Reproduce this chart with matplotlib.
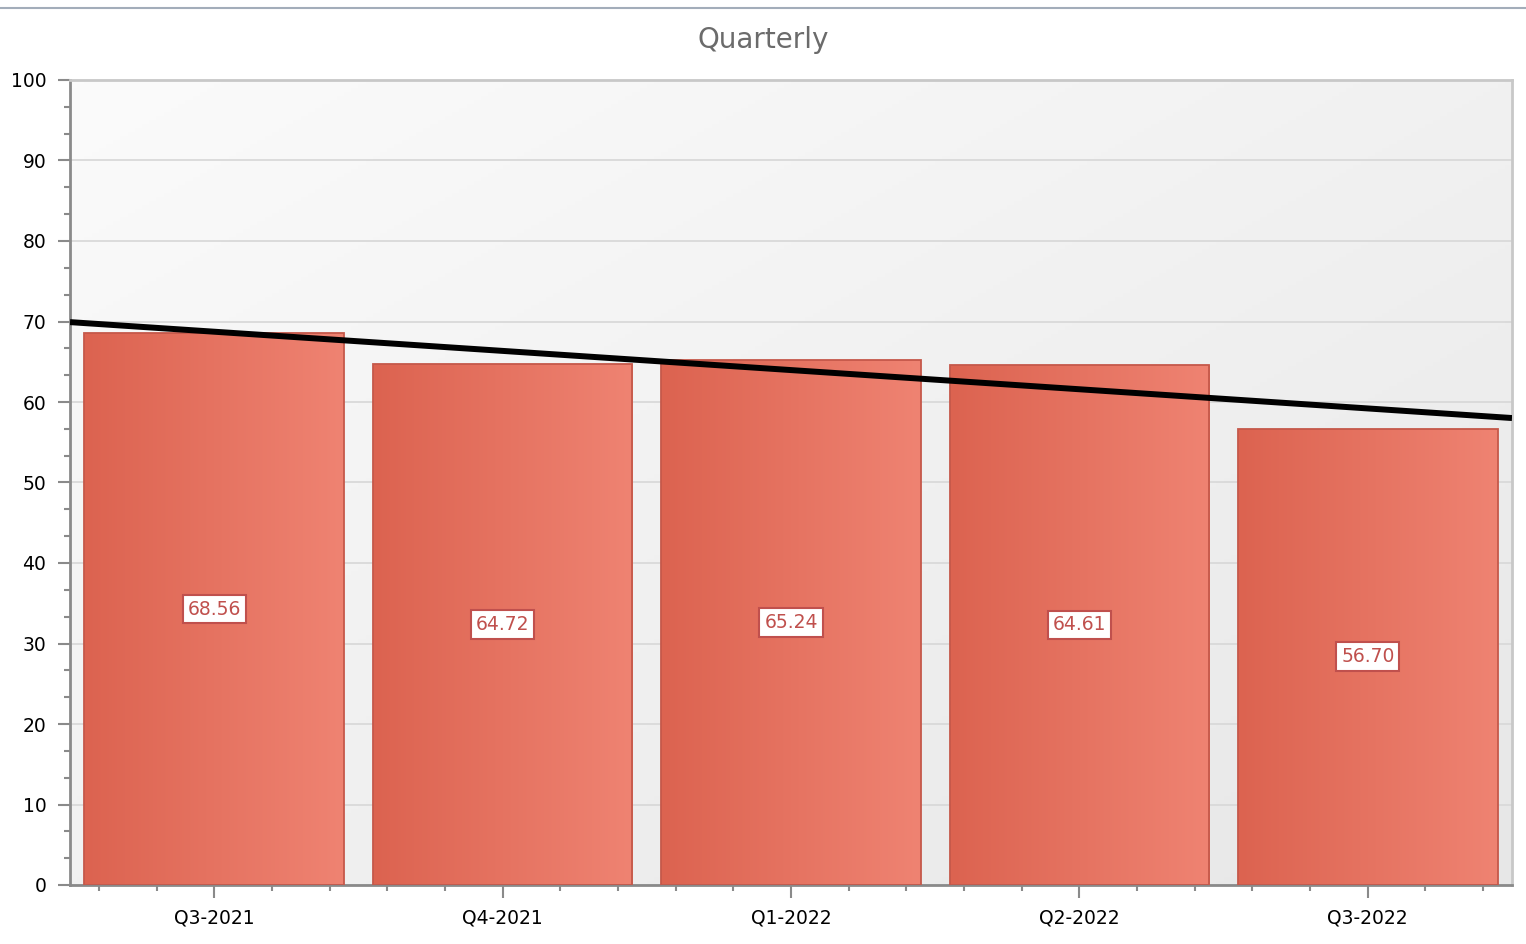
import matplotlib
matplotlib.use("Agg")
import matplotlib.pyplot as plt
import numpy as np
from matplotlib.colors import LinearSegmentedColormap
from matplotlib.ticker import MultipleLocator, AutoMinorLocator
from matplotlib.lines import Line2D

# data
quarters = ['Q3-2021', 'Q4-2021', 'Q1-2022', 'Q2-2022', 'Q3-2022']
values = [68.56, 64.72, 65.24, 64.61, 56.70]

plt.rcParams['font.family'] = ['DejaVu Sans']

fig = plt.figure(figsize=(15.26, 9.44), dpi=100)
ax = fig.add_axes([70 / 1526, 59 / 944, 1442 / 1526, 805 / 944])

x = np.arange(len(quarters))

# plot-area background gradient (light top-left -> darker bottom-right)
bg_cmap = LinearSegmentedColormap.from_list('bg', ['#fbfbfb', '#e7e7e7'])
gx, gy = np.meshgrid(np.linspace(0, 1, 200), np.linspace(0, 1, 200))
ax.imshow((gx + gy) / 2, cmap=bg_cmap, extent=[0, 1, 0, 1], transform=ax.transAxes,
          aspect='auto', zorder=0, origin='upper')

# bars with horizontal gradient
bars = ax.bar(x, values, width=0.9, color='none', edgecolor='#c5584a', linewidth=1.3, zorder=3)
bar_cmap = LinearSegmentedColormap.from_list('bar', ['#dc6350', '#ef8372'])
grad = np.linspace(0, 1, 256).reshape(1, -1)
for b in bars:
    bx, by = b.get_x(), b.get_y()
    w, h = b.get_width(), b.get_height()
    im = ax.imshow(grad, cmap=bar_cmap, extent=[bx, bx + w, by, by + h], aspect='auto', zorder=2)
    im.set_clip_path(b)

# value labels
for xi, v in zip(x, values):
    ax.text(xi, v / 2, f'{v:.2f}', ha='center', va='center', fontsize=13.5, color='#c0504d', zorder=5,
            bbox=dict(boxstyle='square,pad=0.26', facecolor='white', edgecolor='#c0504d', linewidth=1.5))

# linear trend line
k, c = np.polyfit(x, values, 1)
tx = np.array([-0.5, 4.5])
ax.plot(tx, k * tx + c, color='black', linewidth=4.3, zorder=4, solid_capstyle='butt')

ax.set_xlim(-0.5, 4.5)
ax.set_ylim(0, 100)
ax.set_xticks(x)
ax.set_xticklabels(quarters)
ax.yaxis.set_major_locator(MultipleLocator(10))
ax.yaxis.set_minor_locator(AutoMinorLocator(3))
ax.xaxis.set_minor_locator(MultipleLocator(0.2))
ax.grid(axis='y', color='#d9d9d9', linewidth=1.3, zorder=1)
ax.set_axisbelow(True)

for s in ['left', 'bottom']:
    ax.spines[s].set_color('#8a8a8a')
    ax.spines[s].set_linewidth(2)
for s in ['top', 'right']:
    ax.spines[s].set_color('#c8c8c8')
    ax.spines[s].set_linewidth(2)

ax.tick_params(axis='both', which='major', length=9, width=1.5, color='#8a8a8a', labelsize=13.5)
ax.tick_params(axis='y', which='major', direction='out', pad=8)
ax.tick_params(axis='x', which='major', direction='out', pad=8)
ax.tick_params(axis='both', which='minor', length=4, width=1.5, color='#8a8a8a')

# title centred on the whole figure
fig.text(0.5, 1 - 40 / 944, 'Quarterly', fontsize=20, color='#6b6b6b', ha='center', va='center')

# thin line along top of figure
fig.add_artist(Line2D([0, 1], [1 - 8 / 944, 1 - 8 / 944], color='#a3adba', linewidth=1.5))

fig.savefig('out.png', dpi=100)
